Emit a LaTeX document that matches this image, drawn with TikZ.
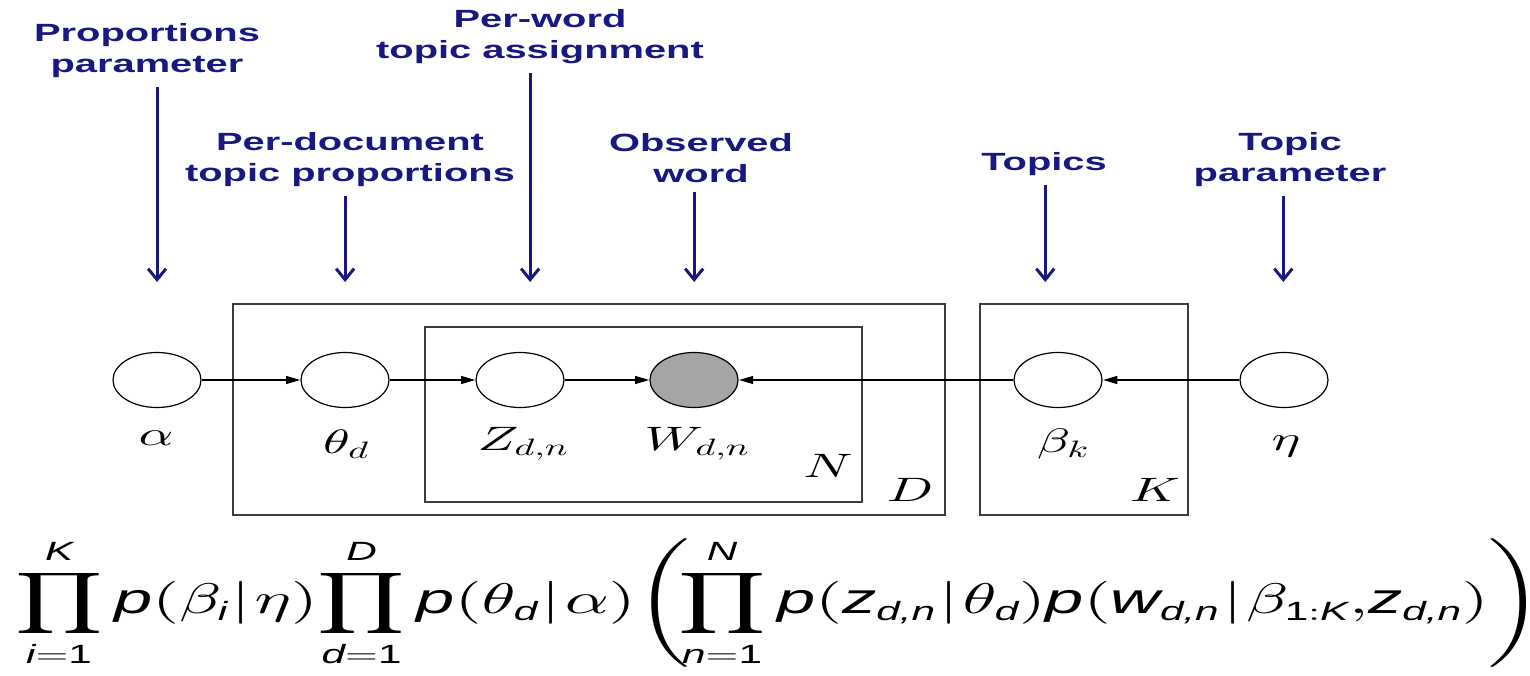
\documentclass[tikz,border=0pt]{standalone}
\usepackage{amsmath}
\usepackage{fontspec}
\newfontfamily\hvfont{Liberation Sans}
\usetikzlibrary{arrows.meta}
% scalable math fonts
\DeclareFontShape{OML}{cmm}{m}{it}{<->cmmi10}{}
\DeclareFontShape{OMS}{cmsy}{m}{n}{<->cmsy10}{}
\DeclareFontShape{OMX}{cmex}{m}{n}{<->cmex10}{}
\DeclareFontShape{OT1}{cmr}{m}{n}{<->cmr10}{}
\DeclareMathSizes{43}{43}{26.5}{19.5}

\definecolor{lblblue}{RGB}{24,24,128}
\definecolor{platecol}{RGB}{60,60,60}
\definecolor{obscol}{RGB}{165,165,165}
\newcommand{\sv}[1]{\text{\hvfont\itshape #1}}
\newcommand{\sn}[1]{\text{\hvfont #1}}
\newcommand{\gv}{\mkern1mu|\mkern1mu}

\begin{document}
\begin{tikzpicture}[x=0.625bp, y=-1bp, xscale=1.6, transform shape,
    var/.style={circle, draw, line width=1.2bp, minimum size=55bp, inner sep=0pt},
    obs/.style={var, fill=obscol},
    mlbl/.style={font=\fontsize{34}{40}\selectfont, inner sep=0pt},
    note/.style={text=lblblue, font=\hvfont\bfseries\fontsize{25}{31}\selectfont, align=center, inner sep=0pt},
    callout/.style={draw=lblblue, line width=3bp, -{Straight Barb[length=11bp,width=18bp]}, shorten <=9bp},
    edge/.style={line width=1.1bp, -{Triangle[length=14bp,width=8bp]}},
    plate/.style={draw=platecol, line width=1.6bp}]
    \useasboundingbox (0,0) rectangle (1530,676);

    % plates
    \draw[plate] (233,304) rectangle (945,515); % documents
    \draw[plate] (425,327) rectangle (862,502); % words
    \draw[plate] (980,304) rectangle (1188,515); % topics
    \node[mlbl] (nLbl) at (828,466) {$N$};
    \node[mlbl] (dLbl) at (910,490) {$D$};
    \node[mlbl] (kLbl) at (1155,490) {$K$};

    % variables
    \node[var] (alpha) at (157,380) {};
    \node[var] (theta) at (345,380) {};
    \node[var] (z) at (520,380) {};
    \node[obs] (w) at (694,380) {};
    \node[var] (beta) at (1058,380) {};
    \node[var] (eta) at (1284,380) {};
    \node[mlbl] (alphaLbl) at (156,438) {$\alpha$};
    \node[mlbl] (thetaLbl) at (346,444) {$\theta_d$};
    \node[mlbl] (zLbl) at (523,444) {$Z_{d,n}$};
    \node[mlbl] (wLbl) at (697,444) {$W_{d,n}$};
    \node[mlbl] (betaLbl) at (1063,444) {$\beta_k$};
    \node[mlbl] (etaLbl) at (1286,446) {$\eta$};

    \draw[edge] (alpha) -- (theta);
    \draw[edge] (theta) -- (z);
    \draw[edge] (z) -- (w);
    \draw[edge] (beta) -- (w);
    \draw[edge] (eta) -- (beta);

    % blue notes
    \node[note] (noteAlpha) at (147,51) {Proportions\\parameter};
    \node[note] (noteTheta) at (350,160) {Per-document\\topic proportions};
    \node[note] (noteZ) at (540,37) {Per-word\\topic assignment};
    \node[note] (noteW) at (701,158) {Observed\\word};
    \node[note] (noteBeta) at (1044,164) {Topics};
    \node[note] (noteEta) at (1290,160) {Topic\\parameter};
    \coordinate (tipAlpha) at (157,282);
    \coordinate (tipTheta) at (345,282);
    \coordinate (tipZ) at (530,282);
    \coordinate (tipW) at (694,282);
    \coordinate (tipBeta) at (1045,282);
    \coordinate (tipEta) at (1283,282);
    \foreach \v in {Alpha,Theta,Z,W,Beta,Eta}
        \draw[callout] (note\v.south -| tip\v) -- (tip\v);

    % joint distribution
    \node[inner sep=0pt, anchor=west, font=\fontsize{43}{50}\selectfont] (joint) at (15,603)
        {$\displaystyle \prod_{\sv{i}=\sn{1}}^{\sv{K}} \sv{p}(\beta_{\sv{i}}\gv\eta)
        \!\prod_{\sv{d}=\sn{1}}^{\sv{D}} \sv{p}(\theta_{\sv{d}}\gv\alpha)
        \Biggl(\!\prod_{\sv{n}=\sn{1}}^{\sv{N}} \sv{p}(\sv{z}_{\sv{d,n}}\gv\theta_{\sv{d}})
        \sv{p}(\sv{w}_{\sv{d,n}}\gv\beta_{\sn{1}:\sv{K}}{,}\sv{z}_{\sv{d,n}})\Biggr)$};
\end{tikzpicture}
\end{document}
